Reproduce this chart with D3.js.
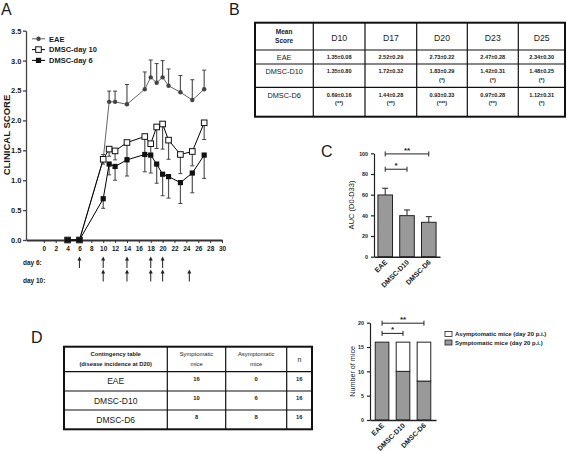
<!DOCTYPE html>
<html><head><meta charset="utf-8">
<script src="https://cdn.jsdelivr.net/npm/d3@7"></script>
<style>body{margin:0;background:#fff}svg{display:block}text{font-family:"Liberation Sans",Arial,sans-serif;fill:#1a1a1a}</style>
</head><body><script>
// ---------- DATA ----------
// Panel A: clinical score over time
const days = [4, 6, 10, 11, 12, 14, 17, 18, 19, 20, 21, 23, 25, 27];
const eaeScore = [0, 0, 1.35, 2.31, 2.31, 2.27, 2.52, 2.72, 2.63, 2.72, 2.58, 2.47, 2.34, 2.52];
const eaeErr   = [0, 0, 0.08, 0.18, 0.18, 0.33, 0.29, 0.29, 0.32, 0.28, 0.28, 0.28, 0.34, 0.32];
const d10Score = [0, 0, 1.35, 1.52, 1.49, 1.63, 1.73, 1.61, 1.89, 1.94, 1.67, 1.43, 1.48, 1.96];
const d10Err   = [0, 0, 0.08, 0.12, 0.15, 0.25, 0.30, 0.20, 0.36, 0.42, 0.32, 0.32, 0.24, 0.28];
const d6Score  = [0, 0, 0.69, 1.27, 1.23, 1.34, 1.43, 1.42, 1.27, 1.10, 1.06, 0.96, 1.12, 1.42];
const d6Err    = [0, 0, 0.16, 0.18, 0.23, 0.27, 0.29, 0.30, 0.32, 0.36, 0.36, 0.35, 0.33, 0.39];
const seriesNames = ["EAE", "DMSC-day 10", "DMSC-day 6"];
const xTicksA = d3.range(0, 31, 2);
const yTicksA = [0, 0.5, 1.0, 1.5, 2.0, 2.5, 3.0, 3.5];
const arrowsDay6 = [6, 10, 14, 18, 20];
const arrowsDay10 = [10, 14, 18, 20, 24.5];

// Panel B: mean score table
const tblBCols = ["D10", "D17", "D20", "D23", "D25"];
const tblBRows = ["EAE", "DMSC-D10", "DMSC-D6"];
const tblBMeans = [[1.35, 2.52, 2.73, 2.47, 2.34], [1.35, 1.72, 1.83, 1.42, 1.48], [0.69, 1.44, 0.93, 0.97, 1.12]];
const tblBSem = [[0.08, 0.29, 0.22, 0.28, 0.30], [0.80, 0.32, 0.29, 0.31, 0.25], [0.16, 0.28, 0.33, 0.28, 0.31]];
const tblBSig = [["", "", "", "", ""], ["", "", "(*)", "(*)", "(*)"], ["(**)", "(**)", "(***)", "(**)", "(*)"]];

// Panel C: AUC
const groups = ["EAE", "DMSC-D10", "DMSC-D6"];
const aucMean = [59.7, 39.7, 33.3];
const aucErr = [6.5, 5.5, 5.4];
const aucTicks = [0, 20, 40, 60, 80, 100];
const sigC = [{ a: 0, b: 1, y: 84.6, label: "*" }, { a: 0, b: 2, y: 99.4, label: "**" }];

// Panel D: contingency
const tblDHead = [["Contingency table", "(disease incidence at D20)"], ["Symptomatic", "mice"], ["Asymptomatic", "mice"], ["n"]];
const symptomatic = [16, 10, 8];
const asymptomatic = [0, 6, 8];
const nMice = [16, 16, 16];
const miceTicks = [0, 5, 10, 15, 20];
const sigD = [{ a: 0, b: 1, y: 17.8, label: "*" }, { a: 0, b: 2, y: 19.9, label: "**" }];
const legendD = ["Asymptomatic mice (day 20 p.i.)", "Symptomatic mice (day 20 p.i.)"];

// ---------- DRAW ----------
const svg = d3.select("body").append("svg").attr("width", 567).attr("height", 451);
const FONT = '"Liberation Sans",Arial,sans-serif';
function panelLetter(t, x, y) {
  svg.append("text").attr("x", x).attr("y", y).attr("font-size", 16).text(t);
}
panelLetter("A", 1, 15); panelLetter("B", 229, 15); panelLetter("C", 321, 157); panelLetter("D", 31, 343);

// ----- Panel A -----
const xA = d3.scaleLinear().domain([-3, 30]).range([26, 222]);
const yA = d3.scaleLinear().domain([0, 3.5]).range([240, 30.7]);
const gA = svg.append("g");
const yAx = gA.append("g").attr("transform", "translate(26,0)")
  .call(d3.axisLeft(yA).tickValues(yTicksA).tickFormat(d3.format(".1f")).tickSize(3).tickPadding(1.5).tickSizeOuter(0));
yAx.selectAll("path,line").attr("stroke", "#444").attr("stroke-width", 1.3);
yAx.selectAll("text").attr("font-size", 7.5).attr("font-weight", "bold").attr("font-family", FONT).attr("fill", "#222");
const xAx = gA.append("g").attr("transform", "translate(0,240)")
  .call(d3.axisBottom(xA).tickValues(xTicksA).tickSize(3).tickSizeOuter(0));
xAx.select("path").attr("stroke", "#333").attr("stroke-width", 2);
xAx.selectAll("line").attr("stroke", "#333");
xAx.selectAll("text").attr("font-size", 6.5).attr("font-weight", "bold").attr("font-family", FONT).attr("fill", "#222");
gA.append("text").attr("transform", "translate(9.5,135) rotate(-90)").attr("text-anchor", "middle")
  .attr("font-size", 9.5).attr("font-weight", "bold").text("CLINICAL SCORE");

const series = [
  { vals: eaeScore, err: eaeErr, dir: 1, marker: "dot", line: "#666" },
  { vals: d10Score, err: d10Err, dir: -1, marker: "open", line: "#000" },
  { vals: d6Score, err: d6Err, dir: -1, marker: "filled", line: "#000" }
];
// error bars
series.forEach(s => {
  days.forEach((d, i) => {
    if (!s.err[i]) return;
    const x = xA(d), y0 = yA(s.vals[i]), y1 = yA(s.vals[i] + s.dir * s.err[i]);
    gA.append("line").attr("x1", x).attr("x2", x).attr("y1", y0).attr("y2", y1).attr("stroke", "#555").attr("stroke-width", 1.2);
    gA.append("line").attr("x1", x - 2).attr("x2", x + 2).attr("y1", y1).attr("y2", y1).attr("stroke", "#444").attr("stroke-width", 1);
  });
});
const lineGen = vals => d3.line().x((d, i) => xA(days[i])).y((d) => yA(d))(vals);
series.forEach(s => {
  gA.append("path").attr("d", lineGen(s.vals)).attr("fill", "none").attr("stroke", s.line).attr("stroke-width", 1);
});
function marker(g, type, x, y) {
  if (type === "dot") g.append("circle").attr("cx", x).attr("cy", y).attr("r", 2.2).attr("fill", "#444");
  else if (type === "open") g.append("rect").attr("x", x - 2.8).attr("y", y - 2.8).attr("width", 5.6).attr("height", 5.6).attr("fill", "#fff").attr("stroke", "#111").attr("stroke-width", 1);
  else g.append("rect").attr("x", x - 2.6).attr("y", y - 2.6).attr("width", 5.2).attr("height", 5.2).attr("fill", "#111");
}
series.forEach(s => days.forEach((d, i) => marker(gA, s.marker, xA(d), yA(s.vals[i]))));
// legend
seriesNames.forEach((n, i) => {
  const y = 38.8 + i * 10.8;
  gA.append("line").attr("x1", 32).attr("x2", 45).attr("y1", y).attr("y2", y).attr("stroke", series[i].line).attr("stroke-width", 1);
  marker(gA, series[i].marker, 38.5, y);
  gA.append("text").attr("x", 49).attr("y", y + 2.7).attr("font-size", 7.5).attr("font-weight", "bold").text(n);
});
// dosing arrows
function arrowRow(label, list, yTop, yBot, yLab) {
  gA.append("text").attr("x", 23).attr("y", yLab).attr("font-size", 6.5).attr("font-weight", "bold").text(label);
  list.forEach(d => {
    const x = xA(d);
    gA.append("line").attr("x1", x).attr("x2", x).attr("y1", yTop + 3).attr("y2", yBot).attr("stroke", "#333").attr("stroke-width", 1.1);
    gA.append("path").attr("d", `M${x},${yTop} L${x - 2},${yTop + 4} L${x + 2},${yTop + 4} Z`).attr("fill", "#222");
  });
}
arrowRow("day 6:", arrowsDay6, 256.5, 268, 264.5);
arrowRow("day 10:", arrowsDay10, 269.5, 281.5, 283);

// ----- Panel B table -----
const gB = svg.append("g");
const bx = [255, 313.3, 365, 416.7, 467.3, 518.3, 565];
const by = [22.7, 50, 64, 87.3, 116.7];
for (let i = 1; i < bx.length - 1; i++) gB.append("line").attr("x1", bx[i]).attr("x2", bx[i]).attr("y1", by[0]).attr("y2", by[4]).attr("stroke", "#111").attr("stroke-width", 1.2);
for (let j = 1; j < by.length - 1; j++) gB.append("line").attr("x1", bx[0]).attr("x2", bx[6]).attr("y1", by[j]).attr("y2", by[j]).attr("stroke", "#111").attr("stroke-width", 1.2);
gB.append("rect").attr("x", bx[0]).attr("y", by[0]).attr("width", bx[6] - bx[0]).attr("height", by[4] - by[0]).attr("fill", "none").attr("stroke", "#111").attr("stroke-width", 2);
const cxB = i => (bx[i] + bx[i + 1]) / 2;
gB.append("text").attr("x", cxB(0)).attr("y", 33.5).attr("text-anchor", "middle").attr("font-size", 6.5).attr("font-weight", "bold").text("Mean");
gB.append("text").attr("x", cxB(0)).attr("y", 42.5).attr("text-anchor", "middle").attr("font-size", 6.5).attr("font-weight", "bold").text("Score");
tblBCols.forEach((c, i) => gB.append("text").attr("x", cxB(i + 1)).attr("y", 41.3).attr("text-anchor", "middle").attr("font-size", 8.7).text(c));
tblBRows.forEach((r, j) => {
  const top = by[j + 1];
  gB.append("text").attr("x", cxB(0)).attr("y", top + 10.3).attr("text-anchor", "middle").attr("font-size", 7.3).text(r);
  tblBCols.forEach((c, i) => {
    gB.append("text").attr("x", cxB(i + 1)).attr("y", top + 9.3).attr("text-anchor", "middle").attr("font-size", 5.6).attr("font-weight", "bold")
      .text(tblBMeans[j][i].toFixed(2) + "±" + tblBSem[j][i].toFixed(2));
    if (tblBSig[j][i]) gB.append("text").attr("x", cxB(i + 1)).attr("y", top + 18).attr("text-anchor", "middle").attr("font-size", 5.6).attr("font-weight", "bold").text(tblBSig[j][i]);
  });
});

// ----- Helpers for bar panels -----
function barAxes(g, x, y, ticks, x0, y0, label, labelX, labelSize) {
  const ya = g.append("g").attr("transform", `translate(${x0},0)`).call(d3.axisLeft(y).tickValues(ticks).tickSize(3).tickSizeOuter(0));
  ya.selectAll("path,line").attr("stroke", "#222").attr("stroke-width", 1.2);
  ya.selectAll("text").attr("font-size", 5.3).attr("font-weight", "bold").attr("font-family", FONT).attr("fill", "#222");
  const xa = g.append("g").attr("transform", `translate(0,${y0})`).call(d3.axisBottom(x).tickSize(0).tickSizeOuter(0));
  xa.select("path").attr("stroke", "#222").attr("stroke-width", 1.5);
  xa.selectAll("text").remove();
  groups.forEach(gr => {
    const cx = x(gr) + x.bandwidth() / 2;
    g.append("text").attr("transform", `translate(${cx + 2.5},${y0 + 6}) rotate(-45)`).attr("text-anchor", "end")
      .attr("font-size", 7).attr("font-weight", "bold").text(gr);
  });
  const mid = (y.range()[0] + y.range()[1]) / 2;
  g.append("text").attr("transform", `translate(${labelX},${mid}) rotate(-90)`).attr("text-anchor", "middle").attr("font-size", labelSize).text(label);
}
function brackets(g, x, y, list) {
  list.forEach(s => {
    const xa = x(groups[s.a]) + x.bandwidth() / 2, xb = x(groups[s.b]) + x.bandwidth() / 2, yy = y(s.y);
    g.append("line").attr("x1", xa).attr("x2", xb).attr("y1", yy).attr("y2", yy).attr("stroke", "#222").attr("stroke-width", 1);
    [xa, xb].forEach(xx => g.append("line").attr("x1", xx).attr("x2", xx).attr("y1", yy - 2.5).attr("y2", yy + 2.5).attr("stroke", "#222").attr("stroke-width", 1));
    g.append("text").attr("x", (xa + xb) / 2).attr("y", yy - 1).attr("text-anchor", "middle").attr("font-size", 8).attr("font-weight", "bold").text(s.label);
  });
}

// ----- Panel C -----
const gC = svg.append("g");
const xC = d3.scaleBand().domain(groups).range([374, 440]).paddingInner(0.33).paddingOuter(0.18);
const yC = d3.scaleLinear().domain([0, 100]).range([256.7, 153.3]);
groups.forEach((gr, i) => {
  const cx = xC(gr) + xC.bandwidth() / 2, yt = yC(aucMean[i] + aucErr[i]);
  gC.append("line").attr("x1", cx).attr("x2", cx).attr("y1", yC(aucMean[i])).attr("y2", yt).attr("stroke", "#222").attr("stroke-width", 1);
  gC.append("line").attr("x1", cx - 3).attr("x2", cx + 3).attr("y1", yt).attr("y2", yt).attr("stroke", "#222").attr("stroke-width", 1);
  gC.append("rect").attr("x", xC(gr)).attr("y", yC(aucMean[i])).attr("width", xC.bandwidth()).attr("height", yC(0) - yC(aucMean[i]))
    .attr("fill", "#999").attr("stroke", "#222").attr("stroke-width", 1);
});
barAxes(gC, xC, yC, aucTicks, 374, 256.7, "AUC (D0-D33)", 354, 7.5);
brackets(gC, xC, yC, sigC);

// ----- Panel D table -----
const gD = svg.append("g");
const dx = [64, 167.3, 225.7, 286.7, 312];
const dy = [346.7, 371.7, 391, 410, 429.3];
for (let i = 1; i < dx.length - 1; i++) gD.append("line").attr("x1", dx[i]).attr("x2", dx[i]).attr("y1", dy[0]).attr("y2", dy[4]).attr("stroke", "#111").attr("stroke-width", 1.2);
for (let j = 1; j < dy.length - 1; j++) gD.append("line").attr("x1", dx[0]).attr("x2", dx[4]).attr("y1", dy[j]).attr("y2", dy[j]).attr("stroke", "#111").attr("stroke-width", 1.2);
gD.append("rect").attr("x", dx[0]).attr("y", dy[0]).attr("width", dx[4] - dx[0]).attr("height", dy[4] - dy[0]).attr("fill", "none").attr("stroke", "#111").attr("stroke-width", 2);
const cxD = i => (dx[i] + dx[i + 1]) / 2;
tblDHead.forEach((h, i) => {
  if (h.length === 1) gD.append("text").attr("x", cxD(i)).attr("y", 361.5).attr("text-anchor", "middle").attr("font-size", 7).text(h[0]);
  else h.forEach((t, k) => gD.append("text").attr("x", cxD(i)).attr("y", 355.5 + k * 10).attr("text-anchor", "middle").attr("font-size", 5.8).attr("font-weight", i === 0 ? "bold" : "normal").text(t));
});
groups.forEach((gr, j) => {
  const cy = (dy[j + 1] + dy[j + 2]) / 2;
  gD.append("text").attr("x", cxD(0)).attr("y", cy + 3).attr("text-anchor", "middle").attr("font-size", 8.5).text(gr);
  [symptomatic[j], asymptomatic[j], nMice[j]].forEach((v, i) =>
    gD.append("text").attr("x", cxD(i + 1)).attr("y", cy - 0.5).attr("text-anchor", "middle").attr("font-size", 5.8).attr("font-weight", "bold").text(v));
});

// ----- Panel D bars -----
const gE = svg.append("g");
const xE = d3.scaleBand().domain(groups).range([370, 436]).paddingInner(0.35).paddingOuter(0.25);
const yE = d3.scaleLinear().domain([0, 20]).range([420, 322.7]);
groups.forEach((gr, i) => {
  gE.append("rect").attr("x", xE(gr)).attr("y", yE(symptomatic[i])).attr("width", xE.bandwidth()).attr("height", yE(0) - yE(symptomatic[i]))
    .attr("fill", "#999").attr("stroke", "#222").attr("stroke-width", 1);
  gE.append("rect").attr("x", xE(gr)).attr("y", yE(symptomatic[i] + asymptomatic[i])).attr("width", xE.bandwidth()).attr("height", yE(symptomatic[i]) - yE(symptomatic[i] + asymptomatic[i]))
    .attr("fill", "#fff").attr("stroke", "#222").attr("stroke-width", 1);
});
barAxes(gE, xE, yE, miceTicks, 370, 420, "Number of mice", 355, 7.2);
brackets(gE, xE, yE, sigD);
legendD.forEach((t, i) => {
  const y = 331.5 + i * 8.5;
  gE.append("rect").attr("x", 445).attr("y", y).attr("width", 7).attr("height", 5).attr("fill", i === 0 ? "#fff" : "#999").attr("stroke", "#222").attr("stroke-width", 0.8);
  gE.append("text").attr("x", 455).attr("y", y + 4.8).attr("font-size", 6).attr("font-weight", "bold").text(t);
});
</script></body></html>
